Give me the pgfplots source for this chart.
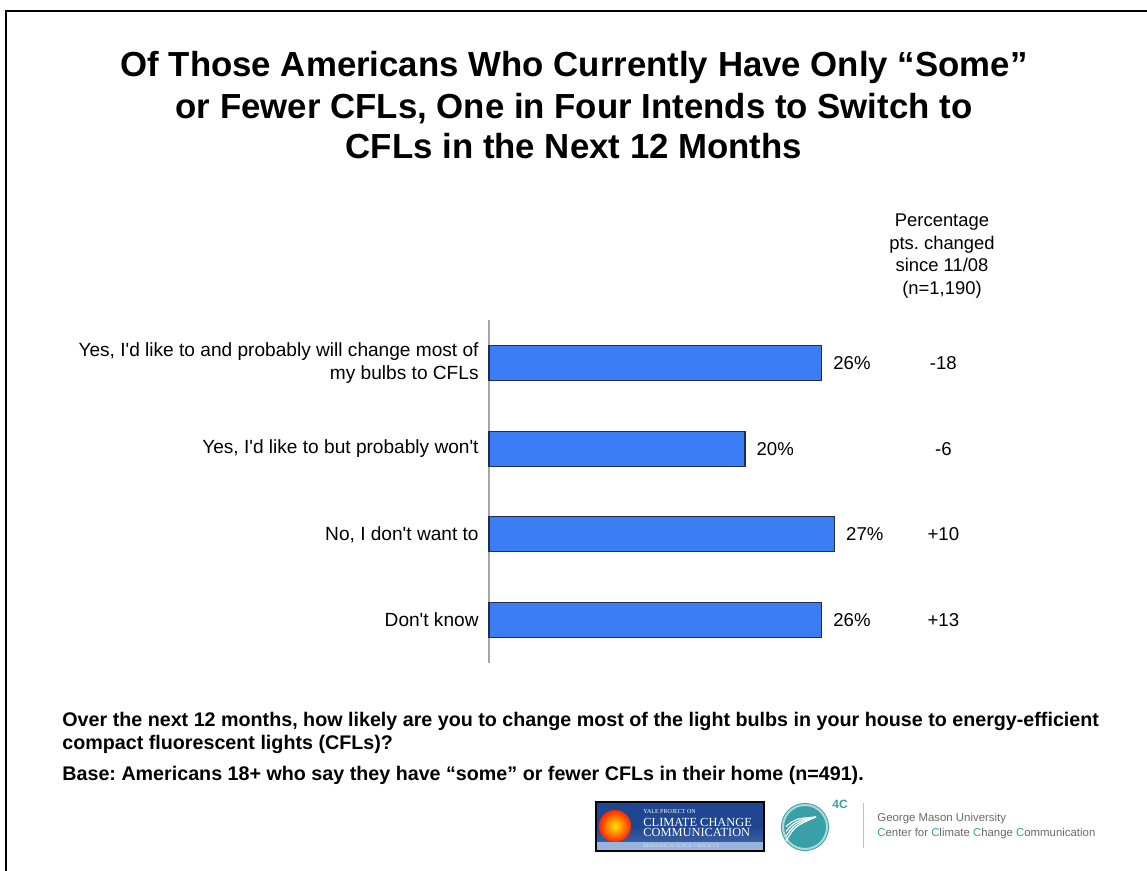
\documentclass[border=0pt]{standalone}
\usepackage{pgfplots}
\pgfplotsset{compat=1.18}
\usepackage{fontspec}
\setmainfont{Liberation Sans}
\newfontfamily\yalefont{Liberation Serif}
\frenchspacing
\definecolor{barblue}{RGB}{59,125,245}
\definecolor{bardraw}{RGB}{35,45,75}
\definecolor{teal4c}{RGB}{58,160,168}
\definecolor{gmugray}{RGB}{105,105,105}
\definecolor{yaledark}{RGB}{30,70,145}
\definecolor{yalelight}{RGB}{150,180,220}

\begin{document}
\begin{tikzpicture}[x=0.5pt,y=0.5pt]
\useasboundingbox (0,0) rectangle (1147,871);
% slide frame
\draw[line width=1pt] (6,-2) -- (6,860) -- (1149,860);

% title
\tikzset{ttl/.style={font=\fontsize{17.4}{19}\selectfont\bfseries, anchor=base, inner sep=0pt}}
\node[ttl] at (574,794) {Of Those Americans Who Currently Have Only “Some”};
\node[ttl] at (574,752) {or Fewer CFLs, One in Four Intends to Switch to};
\node[ttl] at (574,712) {CFLs in the Next 12 Months};

% header of the change column
\tikzset{hdr/.style={font=\fontsize{9.2}{11}\selectfont, anchor=base, inner sep=0pt}}
\node[hdr] at (942,644) {Percentage};
\node[hdr] at (942,621.5) {pts. changed};
\node[hdr] at (942,599) {since 11/08};
\node[hdr] at (942,576.5) {(n=1,190)};

\begin{axis}[
    at={(244.5pt,104pt)}, anchor=south west,
    scale only axis,
    width=320pt, height=171.5pt,
    xmin=0, xmax=50,
    ymin=-0.5, ymax=3.5,
    y dir=reverse,
    axis x line=none,
    axis y line=left,
    y axis line style={draw=black!35, -, line width=0.6pt},
    ytick={0,1,2,3},
    yticklabels={
        {Yes, I\textquotesingle d like to and probably will change most of\\my bulbs to CFLs},
        {Yes, I\textquotesingle d like to but probably won\textquotesingle t},
        {No, I don\textquotesingle t want to},
        {Don\textquotesingle t know}},
    major tick length=0pt,
    yticklabel style={align=right, font=\fontsize{9.55}{11.5}\selectfont, inner sep=0pt, xshift=-5pt},
    /pgf/number format/assume math mode=true,
    clip=false,
]
\addplot[xbar, bar width=17.5pt, fill=barblue, draw=bardraw, line width=0.6pt,
    nodes near coords={\pgfmathprintnumber{\pgfplotspointmeta}\%},
    nodes near coords align={horizontal},
    every node near coord/.append style={font=\fontsize{9.3}{11}\selectfont, black, inner sep=0pt, xshift=5.5pt}]
    coordinates {(26,0) (20,1) (27,2) (26,3)};
\addplot[draw=none, mark=none,
    nodes near coords, point meta=explicit symbolic,
    every node near coord/.append style={anchor=center, font=\fontsize{9.3}{11}\selectfont, black}]
    table[meta=d] {
x    y  d
35.5 0  -18
35.5 1  -6
35.5 2  +10
35.5 3  +13
};
\end{axis}

% question and base
\tikzset{note/.style={font=\fontsize{9.85}{10}\selectfont\bfseries, anchor=base west, inner sep=0pt}}
\node[note] at (62,144) {Over the next 12 months, how likely are you to change most of the light bulbs in your house to energy-efficient};
\node[note] at (62,121) {compact fluorescent lights (CFLs)?};
\node[note] at (62,90) {Base: Americans 18+ who say they have “some” or fewer CFLs in their home (n=491).};

% Yale logo
\shade[top color=yaledark, bottom color=yaledark!80!white, middle color=yaledark] (596,20) rectangle (764,69);
\fill[yalelight] (596,20) rectangle (764,29);
\draw[line width=0.8pt] (596,20) rectangle (764,69);
\shade[inner color=yellow!80!orange, outer color=red!70!orange] (615,45) circle (16);
\node[font=\yalefont\fontsize{3}{3}\selectfont, white, anchor=base west, inner sep=0pt] at (643,57) {YALE PROJECT ON};
\node[font=\yalefont\fontsize{6.2}{6}\selectfont, white, anchor=base west, inner sep=0pt] at (643,44) {CLIMATE CHANGE};
\node[font=\yalefont\fontsize{6.2}{6}\selectfont, white, anchor=base west, inner sep=0pt] at (643,34) {COMMUNICATION};
\node[font=\yalefont\fontsize{2.6}{3}\selectfont, white!85!yaledark, anchor=base west, inner sep=0pt] at (643,23) {BRIDGING SCIENCE + SOCIETY};

% 4C logo
\fill[teal4c] (805,44) circle (24);
\draw[teal4c!40!white, line width=1pt] (805,44) circle (22);
\foreach \a in {0,12,24,36} {
  \draw[white, line width=0.6pt] (786,30+\a*0.4) .. controls (795,45+\a*0.2) .. (816,54);
}
\node[font=\fontsize{6}{6}\selectfont\bfseries, teal4c, anchor=base west, inner sep=0pt] at (832,62) {4C};
\draw[black!25, line width=0.5pt] (863,23) -- (863,68);
\node[font=\fontsize{5.7}{6}\selectfont, gmugray, anchor=base west, inner sep=0pt] at (877,49) {George Mason University};
\node[font=\fontsize{5.7}{6}\selectfont, gmugray, anchor=base west, inner sep=0pt] at (877,34)
  {{\color{teal4c}C}enter for {\color{teal4c}C}limate {\color{teal4c}C}hange {\color{teal4c}C}ommunication};
\end{tikzpicture}
\end{document}
